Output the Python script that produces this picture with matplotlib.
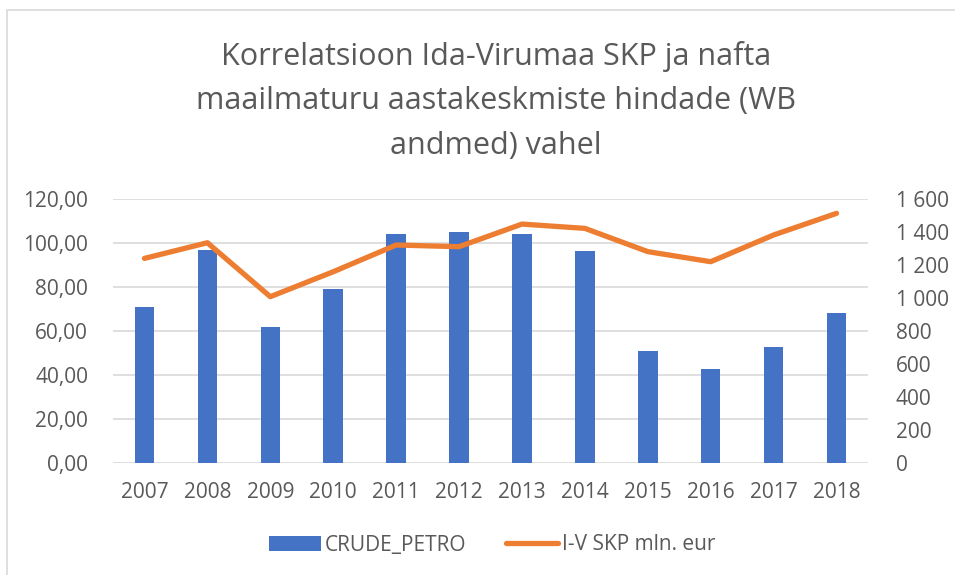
import matplotlib.pyplot as plt
from matplotlib.patches import Rectangle, Patch
from matplotlib.lines import Line2D

plt.rcParams['font.family'] = ['Open Sans', 'DejaVu Sans']

# Data
years = ['2007', '2008', '2009', '2010', '2011', '2012',
         '2013', '2014', '2015', '2016', '2017', '2018']
crude_petro = [71.0, 96.8, 61.7, 79.0, 103.9, 104.9,
               103.9, 96.2, 50.8, 42.9, 52.9, 68.3]
skp_mln_eur = [1240, 1335, 1008, 1159, 1321, 1311,
               1448, 1422, 1281, 1220, 1382, 1513]
left_ticks = [0, 20, 40, 60, 80, 100, 120]
right_ticks = [0, 200, 400, 600, 800, 1000, 1200, 1400, 1600]

blue = '#4472C4'
orange = '#ED7D31'
grey_txt = '#595959'
grid_col = '#D9D9D9'

fig = plt.figure(figsize=(9.55, 5.75), dpi=100)
W, H = 955, 575

# chart border (Excel style)
fig.patches.append(Rectangle((7 / W, -0.1), 1.2, 1 - 10 / H + 0.1,
                             transform=fig.transFigure, fill=False,
                             edgecolor='#D9D9D9', linewidth=1.2))

ax = fig.add_axes([113 / W, 1 - 463 / H, (868 - 113) / W, (463 - 199) / H])
ax2 = ax.twinx()

x = list(range(len(years)))
ax.bar(x, crude_petro, width=0.31, color=blue, zorder=2)
ax2.plot(x, skp_mln_eur, color=orange, linewidth=3.8,
         solid_capstyle='round', solid_joinstyle='round')

ax.set_xlim(-0.5, len(years) - 0.5)
ax.set_ylim(0, 120)
ax2.set_ylim(0, 1600)

ax.set_yticks(left_ticks)
ax.set_yticklabels([f'{v:.2f}'.replace('.', ',') for v in left_ticks])
ax2.set_yticks(right_ticks)
ax2.set_yticklabels([f'{v:,}'.replace(',', ' ') for v in right_ticks])
ax.set_xticks(x)
ax.set_xticklabels(years)

ax.grid(axis='y', color=grid_col, linewidth=1.2, zorder=0)
ax.set_axisbelow(True)
for a in (ax, ax2):
    for s in a.spines.values():
        s.set_visible(False)
    a.tick_params(length=0, labelsize=15, labelcolor=grey_txt)
ax.tick_params(axis='y', pad=18)
ax.tick_params(axis='x', pad=14)
ax2.tick_params(axis='y', pad=20)

fig.text(496 / W, 1 - 101 / H,
         'Korrelatsioon Ida-Virumaa SKP ja nafta\n'
         'maailmaturu aastakeskmiste hindade (WB\n'
         'andmed) vahel',
         ha='center', va='center', fontsize=22, color=grey_txt,
         linespacing=1.62)

handles = [Patch(facecolor=blue, edgecolor='none'),
           Line2D([0], [0], color=orange, linewidth=3.8, solid_capstyle='round')]
fig.legend(handles, ['CRUDE_PETRO', 'I-V SKP mln. eur'],
           loc='center', bbox_to_anchor=(492 / W, 1 - 545 / H), ncol=2,
           frameon=False, fontsize=15, labelcolor=grey_txt,
           handlelength=2.5, handletextpad=0.2, columnspacing=1.9)

fig.savefig('out.png', dpi=100)
